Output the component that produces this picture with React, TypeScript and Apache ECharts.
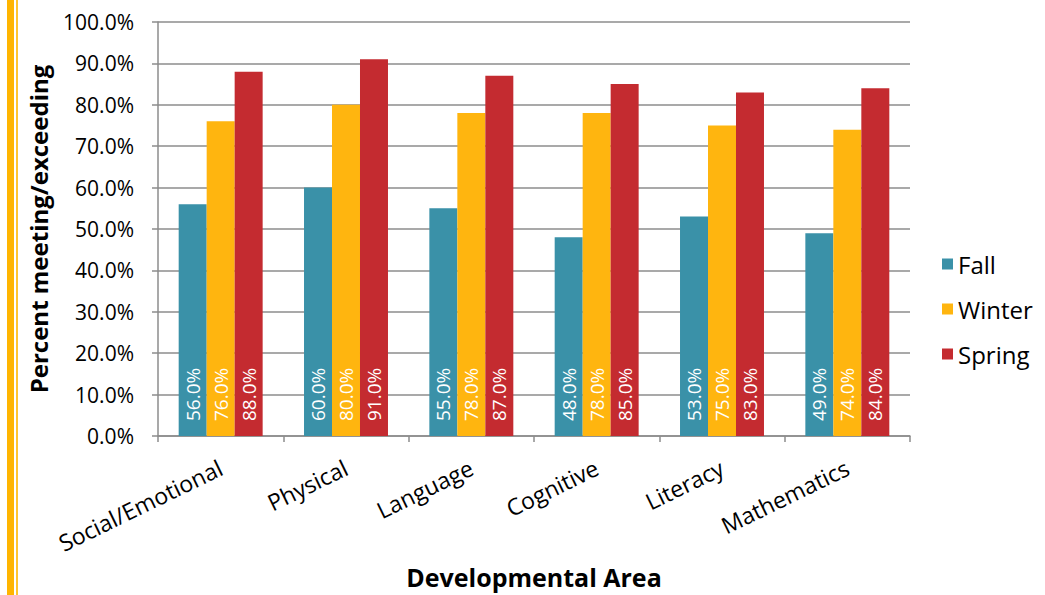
import React, { useEffect, useRef } from "react";
import * as echarts from "echarts";

const categories = ["Social/Emotional", "Physical", "Language", "Cognitive", "Literacy", "Mathematics"];
const fallValues = [56, 60, 55, 48, 53, 49];
const winterValues = [76, 80, 78, 78, 75, 74];
const springValues = [88, 91, 87, 85, 83, 84];
const seriesNames = ["Fall", "Winter", "Spring"];
const seriesColors = ["#3A91A8", "#FFB50F", "#C42B30"];

const FONT = "'Open Sans', Lato, sans-serif";

export default function App() {
  const ref = useRef<HTMLDivElement>(null);
  useEffect(() => {
    document.body.style.margin = "0";
    if (!ref.current) return;
    const chart = echarts.init(ref.current, null, { renderer: "svg" });
    const data = [fallValues, winterValues, springValues];
    chart.setOption({
      animation: false,
      backgroundColor: "#ffffff",
      textStyle: { fontFamily: FONT },
      grid: { left: 158, right: 135, top: 22, bottom: 159, containLabel: false },
      graphic: [
        { type: "rect", left: 7, top: 0, shape: { width: 7, height: 595 }, style: { fill: "#FFB500" } },
        { type: "rect", left: 16, top: 0, shape: { width: 2, height: 595 }, style: { fill: "#FFC530" } },
      ],
      legend: {
        orient: "vertical",
        left: 937,
        top: 247,
        itemWidth: 11,
        itemHeight: 11,
        itemGap: 21,
        icon: "rect",
        textStyle: { fontFamily: FONT, fontSize: 24, color: "#000" },
        data: seriesNames,
      },
      xAxis: {
        type: "category",
        data: categories,
        name: "Developmental Area",
        nameLocation: "middle",
        nameGap: 128,
        nameTextStyle: { fontFamily: FONT, fontSize: 25, fontWeight: "bold", color: "#000" },
        axisLine: { lineStyle: { color: "#8c8c8c", width: 1.5 } },
        axisTick: { show: true, length: 6, lineStyle: { color: "#8c8c8c", width: 1.5 } },
        axisLabel: { rotate: 26, margin: 30, fontFamily: FONT, fontSize: 23, color: "#000" },
      },
      yAxis: {
        type: "value",
        min: 0,
        max: 100,
        interval: 10,
        name: "Percent meeting/exceeding",
        nameLocation: "middle",
        nameGap: 108,
        nameTextStyle: { fontFamily: FONT, fontSize: 24, fontWeight: "bold", color: "#000" },
        axisLine: { show: true, lineStyle: { color: "#8c8c8c", width: 1.5 } },
        axisTick: { show: true, length: 6, lineStyle: { color: "#8c8c8c", width: 1.5 } },
        splitLine: { lineStyle: { color: "#8c8c8c", width: 1.5 } },
        axisLabel: {
          margin: 24,
          fontFamily: FONT,
          fontSize: 21,
          color: "#000",
          formatter: (v: number) => v.toFixed(1) + "%",
        },
      },
      series: seriesNames.map((name, i) => ({
        name,
        type: "bar",
        data: data[i],
        barGap: "0%",
        barCategoryGap: "33%",
        itemStyle: { color: seriesColors[i] },
        label: {
          show: true,
          position: "insideBottom",
          rotate: 90,
          align: "left",
          verticalAlign: "middle",
          distance: 15,
          color: "#fff",
          fontFamily: FONT,
          fontSize: 19,
          formatter: (p: any) => Number(p.value).toFixed(1) + "%",
        },
      })),
    });
    return () => chart.dispose();
  }, []);
  return <div ref={ref} style={{ width: 1045, height: 595 }} />;
}
